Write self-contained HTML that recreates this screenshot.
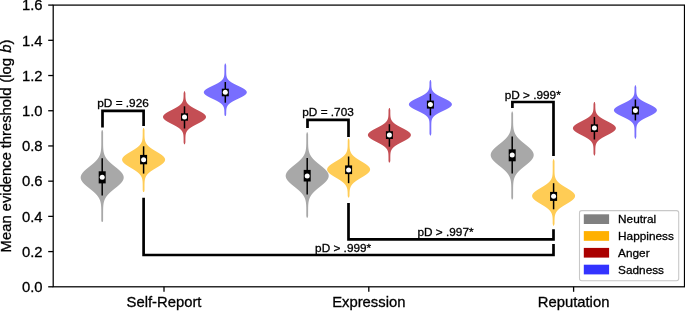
<!DOCTYPE html>
<html><head><meta charset="utf-8"><title>chart</title>
<style>
html,body{margin:0;padding:0;background:#fff;}
body{width:685px;height:311px;overflow:hidden;}
svg{display:block;will-change:transform;}
text{font-family:"Liberation Sans",sans-serif;fill:#000;stroke:#000;stroke-width:0.3px;}
</style></head><body>
<svg width="685" height="311" viewBox="0 0 685 311">
<rect x="0" y="0" width="685" height="311" fill="#fff"/>

<path d="M101.88,130.00 L101.73,130.50 L101.58,131.00 L101.43,131.50 L101.30,132.00 L101.30,132.50 L101.30,133.00 L101.30,133.50 L101.30,134.00 L101.30,134.50 L101.30,135.00 L101.30,135.50 L101.30,136.00 L101.30,136.50 L101.30,137.00 L101.30,137.50 L101.30,138.00 L101.30,138.50 L101.30,139.00 L101.30,139.50 L101.30,140.00 L101.30,140.50 L101.30,141.00 L101.30,141.50 L101.29,142.00 L101.29,142.50 L101.29,143.00 L101.29,143.50 L101.28,144.00 L101.28,144.50 L101.27,145.00 L101.26,145.50 L101.25,146.00 L101.23,146.50 L101.22,147.00 L101.20,147.50 L101.17,148.00 L101.14,148.50 L101.10,149.00 L101.06,149.50 L101.01,150.00 L100.95,150.50 L100.89,151.00 L100.81,151.50 L100.72,152.00 L100.61,152.50 L100.49,153.00 L100.36,153.50 L100.21,154.00 L100.04,154.50 L99.86,155.00 L99.65,155.50 L99.42,156.00 L99.17,156.50 L98.90,157.00 L98.60,157.50 L98.28,158.00 L97.94,158.50 L97.57,159.00 L97.17,159.50 L96.76,160.00 L96.31,160.50 L95.85,161.00 L95.36,161.50 L94.85,162.00 L94.31,162.50 L93.76,163.00 L93.20,163.50 L92.61,164.00 L92.02,164.50 L91.41,165.00 L90.80,165.50 L90.18,166.00 L89.55,166.50 L88.93,167.00 L88.31,167.50 L87.69,168.00 L87.08,168.50 L86.49,169.00 L85.91,169.50 L85.34,170.00 L84.80,170.50 L84.28,171.00 L83.79,171.50 L83.32,172.00 L82.89,172.50 L82.49,173.00 L82.12,173.50 L81.80,174.00 L81.51,174.50 L81.27,175.00 L81.06,175.50 L80.91,176.00 L80.79,176.50 L80.72,177.00 L80.70,177.50 L80.72,178.00 L80.79,178.50 L80.91,179.00 L81.06,179.50 L81.27,180.00 L81.51,180.50 L81.80,181.00 L82.12,181.50 L82.49,182.00 L82.89,182.50 L83.32,183.00 L83.79,183.50 L84.28,184.00 L84.80,184.50 L85.34,185.00 L85.91,185.50 L86.49,186.00 L87.08,186.50 L87.69,187.00 L88.31,187.50 L88.93,188.00 L89.55,188.50 L90.18,189.00 L90.80,189.50 L91.41,190.00 L92.02,190.50 L92.61,191.00 L93.20,191.50 L93.76,192.00 L94.31,192.50 L94.85,193.00 L95.36,193.50 L95.85,194.00 L96.31,194.50 L96.76,195.00 L97.17,195.50 L97.57,196.00 L97.94,196.50 L98.28,197.00 L98.60,197.50 L98.90,198.00 L99.17,198.50 L99.42,199.00 L99.65,199.50 L99.86,200.00 L100.04,200.50 L100.21,201.00 L100.36,201.50 L100.49,202.00 L100.61,202.50 L100.72,203.00 L100.81,203.50 L100.89,204.00 L100.95,204.50 L101.01,205.00 L101.06,205.50 L101.10,206.00 L101.14,206.50 L101.17,207.00 L101.20,207.50 L101.22,208.00 L101.23,208.50 L101.25,209.00 L101.26,209.50 L101.27,210.00 L101.28,210.50 L101.28,211.00 L101.29,211.50 L101.29,212.00 L101.29,212.50 L101.29,213.00 L101.30,213.50 L101.30,214.00 L101.30,214.50 L101.30,215.00 L101.30,215.50 L101.30,216.00 L101.30,216.50 L101.30,217.00 L101.30,217.50 L101.30,218.00 L101.30,218.50 L101.30,219.00 L101.30,219.50 L101.30,220.00 L101.31,220.50 L101.46,221.00 L101.61,221.50 L101.76,222.00 L102.64,222.00 L102.79,221.50 L102.94,221.00 L103.09,220.50 L103.10,220.00 L103.10,219.50 L103.10,219.00 L103.10,218.50 L103.10,218.00 L103.10,217.50 L103.10,217.00 L103.10,216.50 L103.10,216.00 L103.10,215.50 L103.10,215.00 L103.10,214.50 L103.10,214.00 L103.10,213.50 L103.11,213.00 L103.11,212.50 L103.11,212.00 L103.11,211.50 L103.12,211.00 L103.12,210.50 L103.13,210.00 L103.14,209.50 L103.15,209.00 L103.17,208.50 L103.18,208.00 L103.20,207.50 L103.23,207.00 L103.26,206.50 L103.30,206.00 L103.34,205.50 L103.39,205.00 L103.45,204.50 L103.51,204.00 L103.59,203.50 L103.68,203.00 L103.79,202.50 L103.91,202.00 L104.04,201.50 L104.19,201.00 L104.36,200.50 L104.54,200.00 L104.75,199.50 L104.98,199.00 L105.23,198.50 L105.50,198.00 L105.80,197.50 L106.12,197.00 L106.46,196.50 L106.83,196.00 L107.23,195.50 L107.64,195.00 L108.09,194.50 L108.55,194.00 L109.04,193.50 L109.55,193.00 L110.09,192.50 L110.64,192.00 L111.20,191.50 L111.79,191.00 L112.38,190.50 L112.99,190.00 L113.60,189.50 L114.22,189.00 L114.85,188.50 L115.47,188.00 L116.09,187.50 L116.71,187.00 L117.32,186.50 L117.91,186.00 L118.49,185.50 L119.06,185.00 L119.60,184.50 L120.12,184.00 L120.61,183.50 L121.08,183.00 L121.51,182.50 L121.91,182.00 L122.28,181.50 L122.60,181.00 L122.89,180.50 L123.13,180.00 L123.34,179.50 L123.49,179.00 L123.61,178.50 L123.68,178.00 L123.70,177.50 L123.68,177.00 L123.61,176.50 L123.49,176.00 L123.34,175.50 L123.13,175.00 L122.89,174.50 L122.60,174.00 L122.28,173.50 L121.91,173.00 L121.51,172.50 L121.08,172.00 L120.61,171.50 L120.12,171.00 L119.60,170.50 L119.06,170.00 L118.49,169.50 L117.91,169.00 L117.32,168.50 L116.71,168.00 L116.09,167.50 L115.47,167.00 L114.85,166.50 L114.22,166.00 L113.60,165.50 L112.99,165.00 L112.38,164.50 L111.79,164.00 L111.20,163.50 L110.64,163.00 L110.09,162.50 L109.55,162.00 L109.04,161.50 L108.55,161.00 L108.09,160.50 L107.64,160.00 L107.23,159.50 L106.83,159.00 L106.46,158.50 L106.12,158.00 L105.80,157.50 L105.50,157.00 L105.23,156.50 L104.98,156.00 L104.75,155.50 L104.54,155.00 L104.36,154.50 L104.19,154.00 L104.04,153.50 L103.91,153.00 L103.79,152.50 L103.68,152.00 L103.59,151.50 L103.51,151.00 L103.45,150.50 L103.39,150.00 L103.34,149.50 L103.30,149.00 L103.26,148.50 L103.23,148.00 L103.20,147.50 L103.18,147.00 L103.17,146.50 L103.15,146.00 L103.14,145.50 L103.13,145.00 L103.12,144.50 L103.12,144.00 L103.11,143.50 L103.11,143.00 L103.11,142.50 L103.11,142.00 L103.10,141.50 L103.10,141.00 L103.10,140.50 L103.10,140.00 L103.10,139.50 L103.10,139.00 L103.10,138.50 L103.10,138.00 L103.10,137.50 L103.10,137.00 L103.10,136.50 L103.10,136.00 L103.10,135.50 L103.10,135.00 L103.10,134.50 L103.10,134.00 L103.10,133.50 L103.10,133.00 L103.10,132.50 L103.10,132.00 L102.97,131.50 L102.82,131.00 L102.67,130.50 L102.52,130.00Z" fill="#a8a8a8"/>
<path d="M143.28,128.00 L143.13,128.50 L142.98,129.00 L142.83,129.50 L142.70,130.00 L142.70,130.50 L142.70,131.00 L142.70,131.50 L142.70,132.00 L142.70,132.50 L142.69,133.00 L142.69,133.50 L142.69,134.00 L142.68,134.50 L142.68,135.00 L142.67,135.50 L142.65,136.00 L142.64,136.50 L142.62,137.00 L142.59,137.50 L142.55,138.00 L142.50,138.50 L142.44,139.00 L142.37,139.50 L142.28,140.00 L142.17,140.50 L142.03,141.00 L141.87,141.50 L141.69,142.00 L141.47,142.50 L141.22,143.00 L140.93,143.50 L140.61,144.00 L140.24,144.50 L139.83,145.00 L139.38,145.50 L138.88,146.00 L138.34,146.50 L137.75,147.00 L137.12,147.50 L136.45,148.00 L135.74,148.50 L135.00,149.00 L134.23,149.50 L133.44,150.00 L132.62,150.50 L131.79,151.00 L130.96,151.50 L130.12,152.00 L129.29,152.50 L128.47,153.00 L127.67,153.50 L126.91,154.00 L126.17,154.50 L125.48,155.00 L124.84,155.50 L124.26,156.00 L123.73,156.50 L123.27,157.00 L122.89,157.50 L122.57,158.00 L122.34,158.50 L122.18,159.00 L122.11,159.50 L122.11,160.00 L122.21,160.50 L122.38,161.00 L122.63,161.50 L122.96,162.00 L123.36,162.50 L123.83,163.00 L124.37,163.50 L124.97,164.00 L125.62,164.50 L126.32,165.00 L127.06,165.50 L127.83,166.00 L128.63,166.50 L129.45,167.00 L130.29,167.50 L131.12,168.00 L131.96,168.50 L132.79,169.00 L133.60,169.50 L134.39,170.00 L135.15,170.50 L135.89,171.00 L136.59,171.50 L137.25,172.00 L137.87,172.50 L138.45,173.00 L138.98,173.50 L139.47,174.00 L139.92,174.50 L140.32,175.00 L140.68,175.50 L140.99,176.00 L141.27,176.50 L141.52,177.00 L141.73,177.50 L141.91,178.00 L142.06,178.50 L142.19,179.00 L142.30,179.50 L142.38,180.00 L142.45,180.50 L142.51,181.00 L142.56,181.50 L142.59,182.00 L142.62,182.50 L142.64,183.00 L142.66,183.50 L142.67,184.00 L142.68,184.50 L142.69,185.00 L142.69,185.50 L142.69,186.00 L142.70,186.50 L142.70,187.00 L142.70,187.50 L142.70,188.00 L142.70,188.50 L142.70,189.00 L142.70,189.50 L142.70,190.00 L142.71,190.50 L142.86,191.00 L143.01,191.50 L143.16,192.00 L144.04,192.00 L144.19,191.50 L144.34,191.00 L144.49,190.50 L144.50,190.00 L144.50,189.50 L144.50,189.00 L144.50,188.50 L144.50,188.00 L144.50,187.50 L144.50,187.00 L144.50,186.50 L144.51,186.00 L144.51,185.50 L144.51,185.00 L144.52,184.50 L144.53,184.00 L144.54,183.50 L144.56,183.00 L144.58,182.50 L144.61,182.00 L144.64,181.50 L144.69,181.00 L144.75,180.50 L144.82,180.00 L144.90,179.50 L145.01,179.00 L145.14,178.50 L145.29,178.00 L145.47,177.50 L145.68,177.00 L145.93,176.50 L146.21,176.00 L146.52,175.50 L146.88,175.00 L147.28,174.50 L147.73,174.00 L148.22,173.50 L148.75,173.00 L149.33,172.50 L149.95,172.00 L150.61,171.50 L151.31,171.00 L152.05,170.50 L152.81,170.00 L153.60,169.50 L154.41,169.00 L155.24,168.50 L156.08,168.00 L156.91,167.50 L157.75,167.00 L158.57,166.50 L159.37,166.00 L160.14,165.50 L160.88,165.00 L161.58,164.50 L162.23,164.00 L162.83,163.50 L163.37,163.00 L163.84,162.50 L164.24,162.00 L164.57,161.50 L164.82,161.00 L164.99,160.50 L165.09,160.00 L165.09,159.50 L165.02,159.00 L164.86,158.50 L164.63,158.00 L164.31,157.50 L163.93,157.00 L163.47,156.50 L162.94,156.00 L162.36,155.50 L161.72,155.00 L161.03,154.50 L160.29,154.00 L159.53,153.50 L158.73,153.00 L157.91,152.50 L157.08,152.00 L156.24,151.50 L155.41,151.00 L154.58,150.50 L153.76,150.00 L152.97,149.50 L152.20,149.00 L151.46,148.50 L150.75,148.00 L150.08,147.50 L149.45,147.00 L148.86,146.50 L148.32,146.00 L147.82,145.50 L147.37,145.00 L146.96,144.50 L146.59,144.00 L146.27,143.50 L145.98,143.00 L145.73,142.50 L145.51,142.00 L145.33,141.50 L145.17,141.00 L145.03,140.50 L144.92,140.00 L144.83,139.50 L144.76,139.00 L144.70,138.50 L144.65,138.00 L144.61,137.50 L144.58,137.00 L144.56,136.50 L144.55,136.00 L144.53,135.50 L144.52,135.00 L144.52,134.50 L144.51,134.00 L144.51,133.50 L144.51,133.00 L144.50,132.50 L144.50,132.00 L144.50,131.50 L144.50,131.00 L144.50,130.50 L144.50,130.00 L144.37,129.50 L144.22,129.00 L144.07,128.50 L143.92,128.00Z" fill="#ffcc55"/>
<path d="M184.18,91.30 L184.03,91.80 L183.88,92.30 L183.73,92.80 L183.60,93.30 L183.60,93.80 L183.59,94.30 L183.59,94.80 L183.58,95.30 L183.58,95.80 L183.56,96.30 L183.55,96.80 L183.52,97.30 L183.49,97.80 L183.45,98.30 L183.39,98.80 L183.32,99.30 L183.23,99.80 L183.11,100.30 L182.97,100.80 L182.79,101.30 L182.57,101.80 L182.31,102.30 L182.01,102.80 L181.65,103.30 L181.24,103.80 L180.78,104.30 L180.25,104.80 L179.67,105.30 L179.02,105.80 L178.32,106.30 L177.56,106.80 L176.74,107.30 L175.89,107.80 L174.99,108.30 L174.06,108.80 L173.10,109.30 L172.13,109.80 L171.16,110.30 L170.19,110.80 L169.25,111.30 L168.33,111.80 L167.45,112.30 L166.63,112.80 L165.87,113.30 L165.18,113.80 L164.57,114.30 L164.05,114.80 L163.64,115.30 L163.32,115.80 L163.11,116.30 L163.01,116.80 L163.02,117.30 L163.14,117.80 L163.37,118.30 L163.71,118.80 L164.15,119.30 L164.69,119.80 L165.31,120.30 L166.01,120.80 L166.79,121.30 L167.62,121.80 L168.51,122.30 L169.43,122.80 L170.38,123.30 L171.35,123.80 L172.33,124.30 L173.29,124.80 L174.24,125.30 L175.17,125.80 L176.06,126.30 L176.91,126.80 L177.71,127.30 L178.46,127.80 L179.15,128.30 L179.79,128.80 L180.36,129.30 L180.87,129.80 L181.33,130.30 L181.73,130.80 L182.07,131.30 L182.37,131.80 L182.62,132.30 L182.83,132.80 L183.00,133.30 L183.14,133.80 L183.25,134.30 L183.34,134.80 L183.41,135.30 L183.46,135.80 L183.50,136.30 L183.53,136.80 L183.55,137.30 L183.57,137.80 L183.58,138.30 L183.59,138.80 L183.59,139.30 L183.59,139.80 L183.60,140.30 L183.60,140.80 L183.60,141.30 L183.60,141.80 L183.60,142.30 L183.67,142.80 L183.82,143.30 L183.97,143.80 L184.12,144.30 L184.88,144.30 L185.03,143.80 L185.18,143.30 L185.33,142.80 L185.40,142.30 L185.40,141.80 L185.40,141.30 L185.40,140.80 L185.40,140.30 L185.41,139.80 L185.41,139.30 L185.41,138.80 L185.42,138.30 L185.43,137.80 L185.45,137.30 L185.47,136.80 L185.50,136.30 L185.54,135.80 L185.59,135.30 L185.66,134.80 L185.75,134.30 L185.86,133.80 L186.00,133.30 L186.17,132.80 L186.38,132.30 L186.63,131.80 L186.93,131.30 L187.27,130.80 L187.67,130.30 L188.13,129.80 L188.64,129.30 L189.21,128.80 L189.85,128.30 L190.54,127.80 L191.29,127.30 L192.09,126.80 L192.94,126.30 L193.83,125.80 L194.76,125.30 L195.71,124.80 L196.67,124.30 L197.65,123.80 L198.62,123.30 L199.57,122.80 L200.49,122.30 L201.38,121.80 L202.21,121.30 L202.99,120.80 L203.69,120.30 L204.31,119.80 L204.85,119.30 L205.29,118.80 L205.63,118.30 L205.86,117.80 L205.98,117.30 L205.99,116.80 L205.89,116.30 L205.68,115.80 L205.36,115.30 L204.95,114.80 L204.43,114.30 L203.82,113.80 L203.13,113.30 L202.37,112.80 L201.55,112.30 L200.67,111.80 L199.75,111.30 L198.81,110.80 L197.84,110.30 L196.87,109.80 L195.90,109.30 L194.94,108.80 L194.01,108.30 L193.11,107.80 L192.26,107.30 L191.44,106.80 L190.68,106.30 L189.98,105.80 L189.33,105.30 L188.75,104.80 L188.22,104.30 L187.76,103.80 L187.35,103.30 L186.99,102.80 L186.69,102.30 L186.43,101.80 L186.21,101.30 L186.03,100.80 L185.89,100.30 L185.77,99.80 L185.68,99.30 L185.61,98.80 L185.55,98.30 L185.51,97.80 L185.48,97.30 L185.45,96.80 L185.44,96.30 L185.42,95.80 L185.42,95.30 L185.41,94.80 L185.41,94.30 L185.40,93.80 L185.40,93.30 L185.27,92.80 L185.12,92.30 L184.97,91.80 L184.82,91.30Z" fill="#c44e54"/>
<path d="M224.98,63.40 L224.83,63.90 L224.68,64.40 L224.53,64.90 L224.40,65.40 L224.40,65.90 L224.40,66.40 L224.40,66.90 L224.40,67.40 L224.40,67.90 L224.40,68.40 L224.40,68.90 L224.40,69.40 L224.40,69.90 L224.40,70.40 L224.40,70.90 L224.39,71.40 L224.39,71.90 L224.38,72.40 L224.37,72.90 L224.35,73.40 L224.33,73.90 L224.29,74.40 L224.25,74.90 L224.19,75.40 L224.10,75.90 L224.00,76.40 L223.86,76.90 L223.69,77.40 L223.48,77.90 L223.22,78.40 L222.91,78.90 L222.54,79.40 L222.11,79.90 L221.61,80.40 L221.05,80.90 L220.41,81.40 L219.71,81.90 L218.94,82.40 L218.10,82.90 L217.20,83.40 L216.26,83.90 L215.27,84.40 L214.25,84.90 L213.20,85.40 L212.15,85.90 L211.11,86.40 L210.08,86.90 L209.09,87.40 L208.15,87.90 L207.27,88.40 L206.47,88.90 L205.75,89.40 L205.13,89.90 L204.63,90.40 L204.23,90.90 L203.97,91.40 L203.82,91.90 L203.81,92.40 L203.93,92.90 L204.17,93.40 L204.54,93.90 L205.02,94.40 L205.62,94.90 L206.32,95.40 L207.10,95.90 L207.97,96.40 L208.90,96.90 L209.88,97.40 L210.90,97.90 L211.94,98.40 L212.99,98.90 L214.04,99.40 L215.07,99.90 L216.06,100.40 L217.02,100.90 L217.92,101.40 L218.77,101.90 L219.56,102.40 L220.28,102.90 L220.93,103.40 L221.51,103.90 L222.02,104.40 L222.46,104.90 L222.84,105.40 L223.16,105.90 L223.43,106.40 L223.65,106.90 L223.83,107.40 L223.97,107.90 L224.09,108.40 L224.17,108.90 L224.24,109.40 L224.29,109.90 L224.32,110.40 L224.35,110.90 L224.36,111.40 L224.38,111.90 L224.39,112.40 L224.39,112.90 L224.39,113.40 L224.40,113.90 L224.44,114.40 L224.59,114.90 L224.74,115.40 L224.89,115.90 L225.71,115.90 L225.86,115.40 L226.01,114.90 L226.16,114.40 L226.20,113.90 L226.21,113.40 L226.21,112.90 L226.21,112.40 L226.22,111.90 L226.24,111.40 L226.25,110.90 L226.28,110.40 L226.31,109.90 L226.36,109.40 L226.43,108.90 L226.51,108.40 L226.63,107.90 L226.77,107.40 L226.95,106.90 L227.17,106.40 L227.44,105.90 L227.76,105.40 L228.14,104.90 L228.58,104.40 L229.09,103.90 L229.67,103.40 L230.32,102.90 L231.04,102.40 L231.83,101.90 L232.68,101.40 L233.58,100.90 L234.54,100.40 L235.53,99.90 L236.56,99.40 L237.61,98.90 L238.66,98.40 L239.70,97.90 L240.72,97.40 L241.70,96.90 L242.63,96.40 L243.50,95.90 L244.28,95.40 L244.98,94.90 L245.58,94.40 L246.06,93.90 L246.43,93.40 L246.67,92.90 L246.79,92.40 L246.78,91.90 L246.63,91.40 L246.37,90.90 L245.97,90.40 L245.47,89.90 L244.85,89.40 L244.13,88.90 L243.33,88.40 L242.45,87.90 L241.51,87.40 L240.52,86.90 L239.49,86.40 L238.45,85.90 L237.40,85.40 L236.35,84.90 L235.33,84.40 L234.34,83.90 L233.40,83.40 L232.50,82.90 L231.66,82.40 L230.89,81.90 L230.19,81.40 L229.55,80.90 L228.99,80.40 L228.49,79.90 L228.06,79.40 L227.69,78.90 L227.38,78.40 L227.12,77.90 L226.91,77.40 L226.74,76.90 L226.60,76.40 L226.50,75.90 L226.41,75.40 L226.35,74.90 L226.31,74.40 L226.27,73.90 L226.25,73.40 L226.23,72.90 L226.22,72.40 L226.21,71.90 L226.21,71.40 L226.20,70.90 L226.20,70.40 L226.20,69.90 L226.20,69.40 L226.20,68.90 L226.20,68.40 L226.20,67.90 L226.20,67.40 L226.20,66.90 L226.20,66.40 L226.20,65.90 L226.20,65.40 L226.07,64.90 L225.92,64.40 L225.77,63.90 L225.62,63.40Z" fill="#786eff"/>
<path d="M306.88,132.20 L306.73,132.70 L306.58,133.20 L306.43,133.70 L306.30,134.20 L306.30,134.70 L306.30,135.20 L306.30,135.70 L306.30,136.20 L306.30,136.70 L306.30,137.20 L306.30,137.70 L306.30,138.20 L306.30,138.70 L306.30,139.20 L306.30,139.70 L306.29,140.20 L306.29,140.70 L306.29,141.20 L306.29,141.70 L306.28,142.20 L306.28,142.70 L306.27,143.20 L306.26,143.70 L306.25,144.20 L306.24,144.70 L306.22,145.20 L306.20,145.70 L306.18,146.20 L306.15,146.70 L306.11,147.20 L306.07,147.70 L306.02,148.20 L305.97,148.70 L305.90,149.20 L305.82,149.70 L305.74,150.20 L305.63,150.70 L305.52,151.20 L305.39,151.70 L305.24,152.20 L305.08,152.70 L304.90,153.20 L304.69,153.70 L304.47,154.20 L304.22,154.70 L303.96,155.20 L303.67,155.70 L303.35,156.20 L303.01,156.70 L302.64,157.20 L302.26,157.70 L301.84,158.20 L301.40,158.70 L300.94,159.20 L300.46,159.70 L299.95,160.20 L299.42,160.70 L298.88,161.20 L298.31,161.70 L297.73,162.20 L297.14,162.70 L296.53,163.20 L295.92,163.70 L295.30,164.20 L294.68,164.70 L294.05,165.20 L293.43,165.70 L292.81,166.20 L292.20,166.70 L291.61,167.20 L291.02,167.70 L290.45,168.20 L289.91,168.70 L289.38,169.20 L288.88,169.70 L288.41,170.20 L287.97,170.70 L287.56,171.20 L287.19,171.70 L286.86,172.20 L286.57,172.70 L286.31,173.20 L286.10,173.70 L285.93,174.20 L285.81,174.70 L285.73,175.20 L285.70,175.70 L285.71,176.20 L285.77,176.70 L285.88,177.20 L286.03,177.70 L286.22,178.20 L286.46,178.70 L286.74,179.20 L287.06,179.70 L287.41,180.20 L287.80,180.70 L288.23,181.20 L288.69,181.70 L289.18,182.20 L289.69,182.70 L290.23,183.20 L290.79,183.70 L291.37,184.20 L291.96,184.70 L292.57,185.20 L293.18,185.70 L293.80,186.20 L294.43,186.70 L295.05,187.20 L295.67,187.70 L296.29,188.20 L296.90,188.70 L297.50,189.20 L298.08,189.70 L298.65,190.20 L299.21,190.70 L299.74,191.20 L300.26,191.70 L300.75,192.20 L301.22,192.70 L301.67,193.20 L302.09,193.70 L302.49,194.20 L302.87,194.70 L303.22,195.20 L303.54,195.70 L303.84,196.20 L304.12,196.70 L304.37,197.20 L304.61,197.70 L304.82,198.20 L305.01,198.70 L305.18,199.20 L305.33,199.70 L305.47,200.20 L305.59,200.70 L305.70,201.20 L305.79,201.70 L305.87,202.20 L305.94,202.70 L306.00,203.20 L306.05,203.70 L306.10,204.20 L306.13,204.70 L306.17,205.20 L306.19,205.70 L306.21,206.20 L306.23,206.70 L306.25,207.20 L306.26,207.70 L306.27,208.20 L306.27,208.70 L306.28,209.20 L306.28,209.70 L306.29,210.20 L306.29,210.70 L306.29,211.20 L306.30,211.70 L306.30,212.20 L306.30,212.70 L306.30,213.20 L306.30,213.70 L306.30,214.20 L306.30,214.70 L306.30,215.20 L306.30,215.70 L306.34,216.20 L306.49,216.70 L306.64,217.20 L306.79,217.70 L307.61,217.70 L307.76,217.20 L307.91,216.70 L308.06,216.20 L308.10,215.70 L308.10,215.20 L308.10,214.70 L308.10,214.20 L308.10,213.70 L308.10,213.20 L308.10,212.70 L308.10,212.20 L308.10,211.70 L308.11,211.20 L308.11,210.70 L308.11,210.20 L308.12,209.70 L308.12,209.20 L308.13,208.70 L308.13,208.20 L308.14,207.70 L308.15,207.20 L308.17,206.70 L308.19,206.20 L308.21,205.70 L308.23,205.20 L308.27,204.70 L308.30,204.20 L308.35,203.70 L308.40,203.20 L308.46,202.70 L308.53,202.20 L308.61,201.70 L308.70,201.20 L308.81,200.70 L308.93,200.20 L309.07,199.70 L309.22,199.20 L309.39,198.70 L309.58,198.20 L309.79,197.70 L310.03,197.20 L310.28,196.70 L310.56,196.20 L310.86,195.70 L311.18,195.20 L311.53,194.70 L311.91,194.20 L312.31,193.70 L312.73,193.20 L313.18,192.70 L313.65,192.20 L314.14,191.70 L314.66,191.20 L315.19,190.70 L315.75,190.20 L316.32,189.70 L316.90,189.20 L317.50,188.70 L318.11,188.20 L318.73,187.70 L319.35,187.20 L319.97,186.70 L320.60,186.20 L321.22,185.70 L321.83,185.20 L322.44,184.70 L323.03,184.20 L323.61,183.70 L324.17,183.20 L324.71,182.70 L325.22,182.20 L325.71,181.70 L326.17,181.20 L326.60,180.70 L326.99,180.20 L327.34,179.70 L327.66,179.20 L327.94,178.70 L328.18,178.20 L328.37,177.70 L328.52,177.20 L328.63,176.70 L328.69,176.20 L328.70,175.70 L328.67,175.20 L328.59,174.70 L328.47,174.20 L328.30,173.70 L328.09,173.20 L327.83,172.70 L327.54,172.20 L327.21,171.70 L326.84,171.20 L326.43,170.70 L325.99,170.20 L325.52,169.70 L325.02,169.20 L324.49,168.70 L323.95,168.20 L323.38,167.70 L322.79,167.20 L322.20,166.70 L321.59,166.20 L320.97,165.70 L320.35,165.20 L319.72,164.70 L319.10,164.20 L318.48,163.70 L317.87,163.20 L317.26,162.70 L316.67,162.20 L316.09,161.70 L315.52,161.20 L314.98,160.70 L314.45,160.20 L313.94,159.70 L313.46,159.20 L313.00,158.70 L312.56,158.20 L312.14,157.70 L311.76,157.20 L311.39,156.70 L311.05,156.20 L310.73,155.70 L310.44,155.20 L310.18,154.70 L309.93,154.20 L309.71,153.70 L309.50,153.20 L309.32,152.70 L309.16,152.20 L309.01,151.70 L308.88,151.20 L308.77,150.70 L308.66,150.20 L308.58,149.70 L308.50,149.20 L308.43,148.70 L308.38,148.20 L308.33,147.70 L308.29,147.20 L308.25,146.70 L308.22,146.20 L308.20,145.70 L308.18,145.20 L308.16,144.70 L308.15,144.20 L308.14,143.70 L308.13,143.20 L308.12,142.70 L308.12,142.20 L308.11,141.70 L308.11,141.20 L308.11,140.70 L308.11,140.20 L308.10,139.70 L308.10,139.20 L308.10,138.70 L308.10,138.20 L308.10,137.70 L308.10,137.20 L308.10,136.70 L308.10,136.20 L308.10,135.70 L308.10,135.20 L308.10,134.70 L308.10,134.20 L307.97,133.70 L307.82,133.20 L307.67,132.70 L307.52,132.20Z" fill="#a8a8a8"/>
<path d="M348.28,138.60 L348.13,139.10 L347.98,139.60 L347.83,140.10 L347.70,140.60 L347.70,141.10 L347.70,141.60 L347.70,142.10 L347.70,142.60 L347.69,143.10 L347.69,143.60 L347.69,144.10 L347.68,144.60 L347.67,145.10 L347.66,145.60 L347.65,146.10 L347.63,146.60 L347.60,147.10 L347.57,147.60 L347.53,148.10 L347.48,148.60 L347.41,149.10 L347.33,149.60 L347.23,150.10 L347.11,150.60 L346.97,151.10 L346.80,151.60 L346.61,152.10 L346.38,152.60 L346.11,153.10 L345.81,153.60 L345.47,154.10 L345.08,154.60 L344.65,155.10 L344.18,155.60 L343.67,156.10 L343.11,156.60 L342.50,157.10 L341.86,157.60 L341.17,158.10 L340.45,158.60 L339.70,159.10 L338.92,159.60 L338.11,160.10 L337.29,160.60 L336.46,161.10 L335.62,161.60 L334.78,162.10 L333.96,162.60 L333.15,163.10 L332.36,163.60 L331.61,164.10 L330.89,164.60 L330.22,165.10 L329.60,165.60 L329.04,166.10 L328.54,166.60 L328.11,167.10 L327.75,167.60 L327.47,168.10 L327.26,168.60 L327.14,169.10 L327.10,169.60 L327.14,170.10 L327.26,170.60 L327.47,171.10 L327.75,171.60 L328.11,172.10 L328.54,172.60 L329.04,173.10 L329.60,173.60 L330.22,174.10 L330.89,174.60 L331.61,175.10 L332.36,175.60 L333.15,176.10 L333.96,176.60 L334.78,177.10 L335.62,177.60 L336.46,178.10 L337.29,178.60 L338.11,179.10 L338.92,179.60 L339.70,180.10 L340.45,180.60 L341.17,181.10 L341.86,181.60 L342.50,182.10 L343.11,182.60 L343.67,183.10 L344.18,183.60 L344.65,184.10 L345.08,184.60 L345.47,185.10 L345.81,185.60 L346.11,186.10 L346.38,186.60 L346.61,187.10 L346.80,187.60 L346.97,188.10 L347.11,188.60 L347.23,189.10 L347.33,189.60 L347.41,190.10 L347.48,190.60 L347.53,191.10 L347.57,191.60 L347.60,192.10 L347.63,192.60 L347.65,193.10 L347.66,193.60 L347.67,194.10 L347.68,194.60 L347.69,195.10 L347.69,195.60 L347.71,196.10 L347.86,196.60 L348.01,197.10 L348.16,197.60 L349.04,197.60 L349.19,197.10 L349.34,196.60 L349.49,196.10 L349.51,195.60 L349.51,195.10 L349.52,194.60 L349.53,194.10 L349.54,193.60 L349.55,193.10 L349.57,192.60 L349.60,192.10 L349.63,191.60 L349.67,191.10 L349.72,190.60 L349.79,190.10 L349.87,189.60 L349.97,189.10 L350.09,188.60 L350.23,188.10 L350.40,187.60 L350.59,187.10 L350.82,186.60 L351.09,186.10 L351.39,185.60 L351.73,185.10 L352.12,184.60 L352.55,184.10 L353.02,183.60 L353.53,183.10 L354.09,182.60 L354.70,182.10 L355.34,181.60 L356.03,181.10 L356.75,180.60 L357.50,180.10 L358.28,179.60 L359.09,179.10 L359.91,178.60 L360.74,178.10 L361.58,177.60 L362.42,177.10 L363.24,176.60 L364.05,176.10 L364.84,175.60 L365.59,175.10 L366.31,174.60 L366.98,174.10 L367.60,173.60 L368.16,173.10 L368.66,172.60 L369.09,172.10 L369.45,171.60 L369.73,171.10 L369.94,170.60 L370.06,170.10 L370.10,169.60 L370.06,169.10 L369.94,168.60 L369.73,168.10 L369.45,167.60 L369.09,167.10 L368.66,166.60 L368.16,166.10 L367.60,165.60 L366.98,165.10 L366.31,164.60 L365.59,164.10 L364.84,163.60 L364.05,163.10 L363.24,162.60 L362.42,162.10 L361.58,161.60 L360.74,161.10 L359.91,160.60 L359.09,160.10 L358.28,159.60 L357.50,159.10 L356.75,158.60 L356.03,158.10 L355.34,157.60 L354.70,157.10 L354.09,156.60 L353.53,156.10 L353.02,155.60 L352.55,155.10 L352.12,154.60 L351.73,154.10 L351.39,153.60 L351.09,153.10 L350.82,152.60 L350.59,152.10 L350.40,151.60 L350.23,151.10 L350.09,150.60 L349.97,150.10 L349.87,149.60 L349.79,149.10 L349.72,148.60 L349.67,148.10 L349.63,147.60 L349.60,147.10 L349.57,146.60 L349.55,146.10 L349.54,145.60 L349.53,145.10 L349.52,144.60 L349.51,144.10 L349.51,143.60 L349.51,143.10 L349.50,142.60 L349.50,142.10 L349.50,141.60 L349.50,141.10 L349.50,140.60 L349.37,140.10 L349.22,139.60 L349.07,139.10 L348.92,138.60Z" fill="#ffcc55"/>
<path d="M389.08,108.00 L388.93,108.50 L388.78,109.00 L388.63,109.50 L388.50,110.00 L388.50,110.50 L388.50,111.00 L388.50,111.50 L388.50,112.00 L388.49,112.50 L388.49,113.00 L388.48,113.50 L388.47,114.00 L388.46,114.50 L388.44,115.00 L388.41,115.50 L388.38,116.00 L388.33,116.50 L388.27,117.00 L388.19,117.50 L388.09,118.00 L387.96,118.50 L387.80,119.00 L387.61,119.50 L387.37,120.00 L387.10,120.50 L386.77,121.00 L386.40,121.50 L385.96,122.00 L385.47,122.50 L384.92,123.00 L384.31,123.50 L383.65,124.00 L382.92,124.50 L382.14,125.00 L381.31,125.50 L380.43,126.00 L379.52,126.50 L378.58,127.00 L377.61,127.50 L376.64,128.00 L375.67,128.50 L374.71,129.00 L373.77,129.50 L372.87,130.00 L372.01,130.50 L371.21,131.00 L370.48,131.50 L369.82,132.00 L369.25,132.50 L368.77,133.00 L368.40,133.50 L368.12,134.00 L367.96,134.50 L367.90,135.00 L367.96,135.50 L368.12,136.00 L368.40,136.50 L368.77,137.00 L369.25,137.50 L369.82,138.00 L370.48,138.50 L371.21,139.00 L372.01,139.50 L372.87,140.00 L373.77,140.50 L374.71,141.00 L375.67,141.50 L376.64,142.00 L377.61,142.50 L378.58,143.00 L379.52,143.50 L380.43,144.00 L381.31,144.50 L382.14,145.00 L382.92,145.50 L383.65,146.00 L384.31,146.50 L384.92,147.00 L385.47,147.50 L385.96,148.00 L386.40,148.50 L386.77,149.00 L387.10,149.50 L387.37,150.00 L387.61,150.50 L387.80,151.00 L387.96,151.50 L388.09,152.00 L388.19,152.50 L388.27,153.00 L388.33,153.50 L388.38,154.00 L388.41,154.50 L388.44,155.00 L388.46,155.50 L388.47,156.00 L388.48,156.50 L388.49,157.00 L388.49,157.50 L388.50,158.00 L388.50,158.50 L388.50,159.00 L388.50,159.50 L388.50,160.00 L388.50,160.50 L388.51,161.00 L388.66,161.50 L388.81,162.00 L388.96,162.50 L389.84,162.50 L389.99,162.00 L390.14,161.50 L390.29,161.00 L390.30,160.50 L390.30,160.00 L390.30,159.50 L390.30,159.00 L390.30,158.50 L390.30,158.00 L390.31,157.50 L390.31,157.00 L390.32,156.50 L390.33,156.00 L390.34,155.50 L390.36,155.00 L390.39,154.50 L390.42,154.00 L390.47,153.50 L390.53,153.00 L390.61,152.50 L390.71,152.00 L390.84,151.50 L391.00,151.00 L391.19,150.50 L391.43,150.00 L391.70,149.50 L392.03,149.00 L392.40,148.50 L392.84,148.00 L393.33,147.50 L393.88,147.00 L394.49,146.50 L395.15,146.00 L395.88,145.50 L396.66,145.00 L397.49,144.50 L398.37,144.00 L399.28,143.50 L400.22,143.00 L401.19,142.50 L402.16,142.00 L403.13,141.50 L404.09,141.00 L405.03,140.50 L405.93,140.00 L406.79,139.50 L407.59,139.00 L408.32,138.50 L408.98,138.00 L409.55,137.50 L410.03,137.00 L410.40,136.50 L410.68,136.00 L410.84,135.50 L410.90,135.00 L410.84,134.50 L410.68,134.00 L410.40,133.50 L410.03,133.00 L409.55,132.50 L408.98,132.00 L408.32,131.50 L407.59,131.00 L406.79,130.50 L405.93,130.00 L405.03,129.50 L404.09,129.00 L403.13,128.50 L402.16,128.00 L401.19,127.50 L400.22,127.00 L399.28,126.50 L398.37,126.00 L397.49,125.50 L396.66,125.00 L395.88,124.50 L395.15,124.00 L394.49,123.50 L393.88,123.00 L393.33,122.50 L392.84,122.00 L392.40,121.50 L392.03,121.00 L391.70,120.50 L391.43,120.00 L391.19,119.50 L391.00,119.00 L390.84,118.50 L390.71,118.00 L390.61,117.50 L390.53,117.00 L390.47,116.50 L390.42,116.00 L390.39,115.50 L390.36,115.00 L390.34,114.50 L390.33,114.00 L390.32,113.50 L390.31,113.00 L390.31,112.50 L390.30,112.00 L390.30,111.50 L390.30,111.00 L390.30,110.50 L390.30,110.00 L390.17,109.50 L390.02,109.00 L389.87,108.50 L389.72,108.00Z" fill="#c44e54"/>
<path d="M430.08,80.00 L429.93,80.50 L429.78,81.00 L429.63,81.50 L429.50,82.00 L429.50,82.50 L429.50,83.00 L429.49,83.50 L429.49,84.00 L429.48,84.50 L429.47,85.00 L429.45,85.50 L429.43,86.00 L429.40,86.50 L429.36,87.00 L429.30,87.50 L429.22,88.00 L429.12,88.50 L428.99,89.00 L428.83,89.50 L428.62,90.00 L428.38,90.50 L428.08,91.00 L427.72,91.50 L427.30,92.00 L426.82,92.50 L426.27,93.00 L425.65,93.50 L424.95,94.00 L424.20,94.50 L423.37,95.00 L422.49,95.50 L421.55,96.00 L420.57,96.50 L419.55,97.00 L418.51,97.50 L417.46,98.00 L416.42,98.50 L415.39,99.00 L414.39,99.50 L413.44,100.00 L412.54,100.50 L411.72,101.00 L410.99,101.50 L410.35,102.00 L409.82,102.50 L409.40,103.00 L409.11,103.50 L408.94,104.00 L408.90,104.50 L408.99,105.00 L409.21,105.50 L409.56,106.00 L410.02,106.50 L410.59,107.00 L411.27,107.50 L412.04,108.00 L412.89,108.50 L413.81,109.00 L414.78,109.50 L415.80,110.00 L416.83,110.50 L417.88,111.00 L418.93,111.50 L419.96,112.00 L420.97,112.50 L421.93,113.00 L422.85,113.50 L423.71,114.00 L424.51,114.50 L425.24,115.00 L425.90,115.50 L426.50,116.00 L427.02,116.50 L427.48,117.00 L427.87,117.50 L428.20,118.00 L428.48,118.50 L428.71,119.00 L428.90,119.50 L429.05,120.00 L429.16,120.50 L429.26,121.00 L429.33,121.50 L429.38,122.00 L429.41,122.50 L429.44,123.00 L429.46,123.50 L429.47,124.00 L429.48,124.50 L429.49,125.00 L429.49,125.50 L429.50,126.00 L429.50,126.50 L429.50,127.00 L429.50,127.50 L429.50,128.00 L429.50,128.50 L429.50,129.00 L429.50,129.50 L429.50,130.00 L429.50,130.50 L429.50,131.00 L429.50,131.50 L429.50,132.00 L429.50,132.50 L429.50,133.00 L429.50,133.50 L429.57,134.00 L429.72,134.50 L429.87,135.00 L430.02,135.50 L430.78,135.50 L430.93,135.00 L431.08,134.50 L431.23,134.00 L431.30,133.50 L431.30,133.00 L431.30,132.50 L431.30,132.00 L431.30,131.50 L431.30,131.00 L431.30,130.50 L431.30,130.00 L431.30,129.50 L431.30,129.00 L431.30,128.50 L431.30,128.00 L431.30,127.50 L431.30,127.00 L431.30,126.50 L431.30,126.00 L431.31,125.50 L431.31,125.00 L431.32,124.50 L431.33,124.00 L431.34,123.50 L431.36,123.00 L431.39,122.50 L431.42,122.00 L431.47,121.50 L431.54,121.00 L431.64,120.50 L431.75,120.00 L431.90,119.50 L432.09,119.00 L432.32,118.50 L432.60,118.00 L432.93,117.50 L433.32,117.00 L433.78,116.50 L434.30,116.00 L434.90,115.50 L435.56,115.00 L436.29,114.50 L437.09,114.00 L437.95,113.50 L438.87,113.00 L439.83,112.50 L440.84,112.00 L441.87,111.50 L442.92,111.00 L443.97,110.50 L445.00,110.00 L446.02,109.50 L446.99,109.00 L447.91,108.50 L448.76,108.00 L449.53,107.50 L450.21,107.00 L450.78,106.50 L451.24,106.00 L451.59,105.50 L451.81,105.00 L451.90,104.50 L451.86,104.00 L451.69,103.50 L451.40,103.00 L450.98,102.50 L450.45,102.00 L449.81,101.50 L449.08,101.00 L448.26,100.50 L447.36,100.00 L446.41,99.50 L445.41,99.00 L444.38,98.50 L443.34,98.00 L442.29,97.50 L441.25,97.00 L440.23,96.50 L439.25,96.00 L438.31,95.50 L437.43,95.00 L436.60,94.50 L435.85,94.00 L435.15,93.50 L434.53,93.00 L433.98,92.50 L433.50,92.00 L433.08,91.50 L432.72,91.00 L432.42,90.50 L432.18,90.00 L431.97,89.50 L431.81,89.00 L431.68,88.50 L431.58,88.00 L431.50,87.50 L431.44,87.00 L431.40,86.50 L431.37,86.00 L431.35,85.50 L431.33,85.00 L431.32,84.50 L431.31,84.00 L431.31,83.50 L431.30,83.00 L431.30,82.50 L431.30,82.00 L431.17,81.50 L431.02,81.00 L430.87,80.50 L430.72,80.00Z" fill="#786eff"/>
<path d="M511.88,111.50 L511.73,112.00 L511.58,112.50 L511.43,113.00 L511.30,113.50 L511.30,114.00 L511.30,114.50 L511.30,115.00 L511.30,115.50 L511.30,116.00 L511.30,116.50 L511.30,117.00 L511.30,117.50 L511.30,118.00 L511.30,118.50 L511.30,119.00 L511.29,119.50 L511.29,120.00 L511.29,120.50 L511.29,121.00 L511.28,121.50 L511.28,122.00 L511.27,122.50 L511.26,123.00 L511.25,123.50 L511.23,124.00 L511.22,124.50 L511.20,125.00 L511.17,125.50 L511.14,126.00 L511.10,126.50 L511.06,127.00 L511.01,127.50 L510.95,128.00 L510.89,128.50 L510.81,129.00 L510.72,129.50 L510.61,130.00 L510.49,130.50 L510.36,131.00 L510.21,131.50 L510.04,132.00 L509.86,132.50 L509.65,133.00 L509.42,133.50 L509.17,134.00 L508.90,134.50 L508.60,135.00 L508.28,135.50 L507.94,136.00 L507.57,136.50 L507.17,137.00 L506.76,137.50 L506.31,138.00 L505.85,138.50 L505.36,139.00 L504.85,139.50 L504.31,140.00 L503.76,140.50 L503.20,141.00 L502.61,141.50 L502.02,142.00 L501.41,142.50 L500.80,143.00 L500.18,143.50 L499.55,144.00 L498.93,144.50 L498.31,145.00 L497.69,145.50 L497.08,146.00 L496.49,146.50 L495.91,147.00 L495.34,147.50 L494.80,148.00 L494.28,148.50 L493.79,149.00 L493.32,149.50 L492.89,150.00 L492.49,150.50 L492.12,151.00 L491.80,151.50 L491.51,152.00 L491.27,152.50 L491.06,153.00 L490.91,153.50 L490.79,154.00 L490.72,154.50 L490.70,155.00 L490.72,155.50 L490.79,156.00 L490.91,156.50 L491.06,157.00 L491.27,157.50 L491.51,158.00 L491.80,158.50 L492.12,159.00 L492.49,159.50 L492.89,160.00 L493.32,160.50 L493.79,161.00 L494.28,161.50 L494.80,162.00 L495.34,162.50 L495.91,163.00 L496.49,163.50 L497.08,164.00 L497.69,164.50 L498.31,165.00 L498.93,165.50 L499.55,166.00 L500.18,166.50 L500.80,167.00 L501.41,167.50 L502.02,168.00 L502.61,168.50 L503.20,169.00 L503.76,169.50 L504.31,170.00 L504.85,170.50 L505.36,171.00 L505.85,171.50 L506.31,172.00 L506.76,172.50 L507.17,173.00 L507.57,173.50 L507.94,174.00 L508.28,174.50 L508.60,175.00 L508.90,175.50 L509.17,176.00 L509.42,176.50 L509.65,177.00 L509.86,177.50 L510.04,178.00 L510.21,178.50 L510.36,179.00 L510.49,179.50 L510.61,180.00 L510.72,180.50 L510.81,181.00 L510.89,181.50 L510.95,182.00 L511.01,182.50 L511.06,183.00 L511.10,183.50 L511.14,184.00 L511.17,184.50 L511.20,185.00 L511.22,185.50 L511.23,186.00 L511.25,186.50 L511.26,187.00 L511.27,187.50 L511.28,188.00 L511.28,188.50 L511.29,189.00 L511.29,189.50 L511.29,190.00 L511.29,190.50 L511.30,191.00 L511.30,191.50 L511.30,192.00 L511.30,192.50 L511.30,193.00 L511.30,193.50 L511.30,194.00 L511.30,194.50 L511.30,195.00 L511.30,195.50 L511.30,196.00 L511.30,196.50 L511.30,197.00 L511.30,197.50 L511.37,198.00 L511.52,198.50 L511.67,199.00 L511.82,199.50 L512.58,199.50 L512.73,199.00 L512.88,198.50 L513.03,198.00 L513.10,197.50 L513.10,197.00 L513.10,196.50 L513.10,196.00 L513.10,195.50 L513.10,195.00 L513.10,194.50 L513.10,194.00 L513.10,193.50 L513.10,193.00 L513.10,192.50 L513.10,192.00 L513.10,191.50 L513.10,191.00 L513.11,190.50 L513.11,190.00 L513.11,189.50 L513.11,189.00 L513.12,188.50 L513.12,188.00 L513.13,187.50 L513.14,187.00 L513.15,186.50 L513.17,186.00 L513.18,185.50 L513.20,185.00 L513.23,184.50 L513.26,184.00 L513.30,183.50 L513.34,183.00 L513.39,182.50 L513.45,182.00 L513.51,181.50 L513.59,181.00 L513.68,180.50 L513.79,180.00 L513.91,179.50 L514.04,179.00 L514.19,178.50 L514.36,178.00 L514.54,177.50 L514.75,177.00 L514.98,176.50 L515.23,176.00 L515.50,175.50 L515.80,175.00 L516.12,174.50 L516.46,174.00 L516.83,173.50 L517.23,173.00 L517.64,172.50 L518.09,172.00 L518.55,171.50 L519.04,171.00 L519.55,170.50 L520.09,170.00 L520.64,169.50 L521.20,169.00 L521.79,168.50 L522.38,168.00 L522.99,167.50 L523.60,167.00 L524.22,166.50 L524.85,166.00 L525.47,165.50 L526.09,165.00 L526.71,164.50 L527.32,164.00 L527.91,163.50 L528.49,163.00 L529.06,162.50 L529.60,162.00 L530.12,161.50 L530.61,161.00 L531.08,160.50 L531.51,160.00 L531.91,159.50 L532.28,159.00 L532.60,158.50 L532.89,158.00 L533.13,157.50 L533.34,157.00 L533.49,156.50 L533.61,156.00 L533.68,155.50 L533.70,155.00 L533.68,154.50 L533.61,154.00 L533.49,153.50 L533.34,153.00 L533.13,152.50 L532.89,152.00 L532.60,151.50 L532.28,151.00 L531.91,150.50 L531.51,150.00 L531.08,149.50 L530.61,149.00 L530.12,148.50 L529.60,148.00 L529.06,147.50 L528.49,147.00 L527.91,146.50 L527.32,146.00 L526.71,145.50 L526.09,145.00 L525.47,144.50 L524.85,144.00 L524.22,143.50 L523.60,143.00 L522.99,142.50 L522.38,142.00 L521.79,141.50 L521.20,141.00 L520.64,140.50 L520.09,140.00 L519.55,139.50 L519.04,139.00 L518.55,138.50 L518.09,138.00 L517.64,137.50 L517.23,137.00 L516.83,136.50 L516.46,136.00 L516.12,135.50 L515.80,135.00 L515.50,134.50 L515.23,134.00 L514.98,133.50 L514.75,133.00 L514.54,132.50 L514.36,132.00 L514.19,131.50 L514.04,131.00 L513.91,130.50 L513.79,130.00 L513.68,129.50 L513.59,129.00 L513.51,128.50 L513.45,128.00 L513.39,127.50 L513.34,127.00 L513.30,126.50 L513.26,126.00 L513.23,125.50 L513.20,125.00 L513.18,124.50 L513.17,124.00 L513.15,123.50 L513.14,123.00 L513.13,122.50 L513.12,122.00 L513.12,121.50 L513.11,121.00 L513.11,120.50 L513.11,120.00 L513.11,119.50 L513.10,119.00 L513.10,118.50 L513.10,118.00 L513.10,117.50 L513.10,117.00 L513.10,116.50 L513.10,116.00 L513.10,115.50 L513.10,115.00 L513.10,114.50 L513.10,114.00 L513.10,113.50 L512.97,113.00 L512.82,112.50 L512.67,112.00 L512.52,111.50Z" fill="#a8a8a8"/>
<path d="M553.28,159.30 L553.13,159.80 L552.98,160.30 L552.83,160.80 L552.70,161.30 L552.70,161.80 L552.70,162.30 L552.70,162.80 L552.70,163.30 L552.70,163.80 L552.70,164.30 L552.70,164.80 L552.70,165.30 L552.70,165.80 L552.70,166.30 L552.70,166.80 L552.70,167.30 L552.70,167.80 L552.70,168.30 L552.70,168.80 L552.69,169.30 L552.69,169.80 L552.69,170.30 L552.68,170.80 L552.68,171.30 L552.67,171.80 L552.65,172.30 L552.64,172.80 L552.62,173.30 L552.59,173.80 L552.55,174.30 L552.50,174.80 L552.44,175.30 L552.37,175.80 L552.28,176.30 L552.17,176.80 L552.03,177.30 L551.87,177.80 L551.69,178.30 L551.47,178.80 L551.22,179.30 L550.93,179.80 L550.61,180.30 L550.24,180.80 L549.83,181.30 L549.38,181.80 L548.88,182.30 L548.34,182.80 L547.75,183.30 L547.12,183.80 L546.45,184.30 L545.74,184.80 L545.00,185.30 L544.23,185.80 L543.44,186.30 L542.62,186.80 L541.79,187.30 L540.96,187.80 L540.12,188.30 L539.29,188.80 L538.47,189.30 L537.67,189.80 L536.91,190.30 L536.17,190.80 L535.48,191.30 L534.84,191.80 L534.26,192.30 L533.73,192.80 L533.27,193.30 L532.89,193.80 L532.57,194.30 L532.34,194.80 L532.18,195.30 L532.11,195.80 L532.11,196.30 L532.21,196.80 L532.38,197.30 L532.63,197.80 L532.96,198.30 L533.36,198.80 L533.83,199.30 L534.37,199.80 L534.97,200.30 L535.62,200.80 L536.32,201.30 L537.06,201.80 L537.83,202.30 L538.63,202.80 L539.45,203.30 L540.29,203.80 L541.12,204.30 L541.96,204.80 L542.79,205.30 L543.60,205.80 L544.39,206.30 L545.15,206.80 L545.89,207.30 L546.59,207.80 L547.25,208.30 L547.87,208.80 L548.45,209.30 L548.98,209.80 L549.47,210.30 L549.92,210.80 L550.32,211.30 L550.68,211.80 L550.99,212.30 L551.27,212.80 L551.52,213.30 L551.73,213.80 L551.91,214.30 L552.06,214.80 L552.19,215.30 L552.30,215.80 L552.38,216.30 L552.45,216.80 L552.51,217.30 L552.56,217.80 L552.59,218.30 L552.62,218.80 L552.64,219.30 L552.66,219.80 L552.67,220.30 L552.68,220.80 L552.69,221.30 L552.69,221.80 L552.69,222.30 L552.70,222.80 L552.70,223.30 L552.70,223.80 L552.83,224.30 L552.98,224.80 L553.13,225.30 L553.28,225.80 L553.92,225.80 L554.07,225.30 L554.22,224.80 L554.37,224.30 L554.50,223.80 L554.50,223.30 L554.50,222.80 L554.51,222.30 L554.51,221.80 L554.51,221.30 L554.52,220.80 L554.53,220.30 L554.54,219.80 L554.56,219.30 L554.58,218.80 L554.61,218.30 L554.64,217.80 L554.69,217.30 L554.75,216.80 L554.82,216.30 L554.90,215.80 L555.01,215.30 L555.14,214.80 L555.29,214.30 L555.47,213.80 L555.68,213.30 L555.93,212.80 L556.21,212.30 L556.52,211.80 L556.88,211.30 L557.28,210.80 L557.73,210.30 L558.22,209.80 L558.75,209.30 L559.33,208.80 L559.95,208.30 L560.61,207.80 L561.31,207.30 L562.05,206.80 L562.81,206.30 L563.60,205.80 L564.41,205.30 L565.24,204.80 L566.08,204.30 L566.91,203.80 L567.75,203.30 L568.57,202.80 L569.37,202.30 L570.14,201.80 L570.88,201.30 L571.58,200.80 L572.23,200.30 L572.83,199.80 L573.37,199.30 L573.84,198.80 L574.24,198.30 L574.57,197.80 L574.82,197.30 L574.99,196.80 L575.09,196.30 L575.09,195.80 L575.02,195.30 L574.86,194.80 L574.63,194.30 L574.31,193.80 L573.93,193.30 L573.47,192.80 L572.94,192.30 L572.36,191.80 L571.72,191.30 L571.03,190.80 L570.29,190.30 L569.53,189.80 L568.73,189.30 L567.91,188.80 L567.08,188.30 L566.24,187.80 L565.41,187.30 L564.58,186.80 L563.76,186.30 L562.97,185.80 L562.20,185.30 L561.46,184.80 L560.75,184.30 L560.08,183.80 L559.45,183.30 L558.86,182.80 L558.32,182.30 L557.82,181.80 L557.37,181.30 L556.96,180.80 L556.59,180.30 L556.27,179.80 L555.98,179.30 L555.73,178.80 L555.51,178.30 L555.33,177.80 L555.17,177.30 L555.03,176.80 L554.92,176.30 L554.83,175.80 L554.76,175.30 L554.70,174.80 L554.65,174.30 L554.61,173.80 L554.58,173.30 L554.56,172.80 L554.55,172.30 L554.53,171.80 L554.52,171.30 L554.52,170.80 L554.51,170.30 L554.51,169.80 L554.51,169.30 L554.50,168.80 L554.50,168.30 L554.50,167.80 L554.50,167.30 L554.50,166.80 L554.50,166.30 L554.50,165.80 L554.50,165.30 L554.50,164.80 L554.50,164.30 L554.50,163.80 L554.50,163.30 L554.50,162.80 L554.50,162.30 L554.50,161.80 L554.50,161.30 L554.37,160.80 L554.22,160.30 L554.07,159.80 L553.92,159.30Z" fill="#ffcc55"/>
<path d="M594.08,102.00 L593.93,102.50 L593.78,103.00 L593.63,103.50 L593.50,104.00 L593.50,104.50 L593.50,105.00 L593.49,105.50 L593.49,106.00 L593.48,106.50 L593.48,107.00 L593.46,107.50 L593.45,108.00 L593.42,108.50 L593.39,109.00 L593.35,109.50 L593.29,110.00 L593.22,110.50 L593.13,111.00 L593.01,111.50 L592.87,112.00 L592.69,112.50 L592.47,113.00 L592.21,113.50 L591.91,114.00 L591.55,114.50 L591.14,115.00 L590.68,115.50 L590.15,116.00 L589.57,116.50 L588.92,117.00 L588.22,117.50 L587.46,118.00 L586.64,118.50 L585.79,119.00 L584.89,119.50 L583.96,120.00 L583.00,120.50 L582.03,121.00 L581.06,121.50 L580.09,122.00 L579.15,122.50 L578.23,123.00 L577.35,123.50 L576.53,124.00 L575.77,124.50 L575.08,125.00 L574.47,125.50 L573.95,126.00 L573.54,126.50 L573.22,127.00 L573.01,127.50 L572.91,128.00 L572.92,128.50 L573.04,129.00 L573.27,129.50 L573.61,130.00 L574.05,130.50 L574.59,131.00 L575.21,131.50 L575.91,132.00 L576.69,132.50 L577.52,133.00 L578.41,133.50 L579.33,134.00 L580.28,134.50 L581.25,135.00 L582.23,135.50 L583.19,136.00 L584.14,136.50 L585.07,137.00 L585.96,137.50 L586.81,138.00 L587.61,138.50 L588.36,139.00 L589.05,139.50 L589.69,140.00 L590.26,140.50 L590.77,141.00 L591.23,141.50 L591.63,142.00 L591.97,142.50 L592.27,143.00 L592.52,143.50 L592.73,144.00 L592.90,144.50 L593.04,145.00 L593.15,145.50 L593.24,146.00 L593.31,146.50 L593.36,147.00 L593.40,147.50 L593.43,148.00 L593.45,148.50 L593.47,149.00 L593.48,149.50 L593.49,150.00 L593.49,150.50 L593.49,151.00 L593.50,151.50 L593.50,152.00 L593.50,152.50 L593.50,153.00 L593.50,153.50 L593.60,154.00 L593.75,154.50 L593.90,155.00 L594.05,155.50 L594.75,155.50 L594.90,155.00 L595.05,154.50 L595.20,154.00 L595.30,153.50 L595.30,153.00 L595.30,152.50 L595.30,152.00 L595.30,151.50 L595.31,151.00 L595.31,150.50 L595.31,150.00 L595.32,149.50 L595.33,149.00 L595.35,148.50 L595.37,148.00 L595.40,147.50 L595.44,147.00 L595.49,146.50 L595.56,146.00 L595.65,145.50 L595.76,145.00 L595.90,144.50 L596.07,144.00 L596.28,143.50 L596.53,143.00 L596.83,142.50 L597.17,142.00 L597.57,141.50 L598.03,141.00 L598.54,140.50 L599.11,140.00 L599.75,139.50 L600.44,139.00 L601.19,138.50 L601.99,138.00 L602.84,137.50 L603.73,137.00 L604.66,136.50 L605.61,136.00 L606.57,135.50 L607.55,135.00 L608.52,134.50 L609.47,134.00 L610.39,133.50 L611.28,133.00 L612.11,132.50 L612.89,132.00 L613.59,131.50 L614.21,131.00 L614.75,130.50 L615.19,130.00 L615.53,129.50 L615.76,129.00 L615.88,128.50 L615.89,128.00 L615.79,127.50 L615.58,127.00 L615.26,126.50 L614.85,126.00 L614.33,125.50 L613.72,125.00 L613.03,124.50 L612.27,124.00 L611.45,123.50 L610.57,123.00 L609.65,122.50 L608.71,122.00 L607.74,121.50 L606.77,121.00 L605.80,120.50 L604.84,120.00 L603.91,119.50 L603.01,119.00 L602.16,118.50 L601.34,118.00 L600.58,117.50 L599.88,117.00 L599.23,116.50 L598.65,116.00 L598.12,115.50 L597.66,115.00 L597.25,114.50 L596.89,114.00 L596.59,113.50 L596.33,113.00 L596.11,112.50 L595.93,112.00 L595.79,111.50 L595.67,111.00 L595.58,110.50 L595.51,110.00 L595.45,109.50 L595.41,109.00 L595.38,108.50 L595.35,108.00 L595.34,107.50 L595.32,107.00 L595.32,106.50 L595.31,106.00 L595.31,105.50 L595.30,105.00 L595.30,104.50 L595.30,104.00 L595.17,103.50 L595.02,103.00 L594.87,102.50 L594.72,102.00Z" fill="#c44e54"/>
<path d="M635.08,85.30 L634.93,85.80 L634.78,86.30 L634.63,86.80 L634.50,87.30 L634.50,87.80 L634.50,88.30 L634.50,88.80 L634.49,89.30 L634.49,89.80 L634.48,90.30 L634.47,90.80 L634.46,91.30 L634.44,91.80 L634.41,92.30 L634.37,92.80 L634.31,93.30 L634.24,93.80 L634.14,94.30 L634.02,94.80 L633.86,95.30 L633.67,95.80 L633.43,96.30 L633.14,96.80 L632.79,97.30 L632.39,97.80 L631.92,98.30 L631.38,98.80 L630.77,99.30 L630.10,99.80 L629.35,100.30 L628.54,100.80 L627.67,101.30 L626.74,101.80 L625.77,102.30 L624.76,102.80 L623.72,103.30 L622.67,103.80 L621.62,104.30 L620.59,104.80 L619.58,105.30 L618.62,105.80 L617.72,106.30 L616.88,106.80 L616.13,107.30 L615.47,107.80 L614.92,108.30 L614.48,108.80 L614.16,109.30 L613.96,109.80 L613.90,110.30 L613.96,110.80 L614.16,111.30 L614.48,111.80 L614.92,112.30 L615.47,112.80 L616.13,113.30 L616.88,113.80 L617.72,114.30 L618.62,114.80 L619.58,115.30 L620.59,115.80 L621.62,116.30 L622.67,116.80 L623.72,117.30 L624.76,117.80 L625.77,118.30 L626.74,118.80 L627.67,119.30 L628.54,119.80 L629.35,120.30 L630.10,120.80 L630.77,121.30 L631.38,121.80 L631.92,122.30 L632.39,122.80 L632.79,123.30 L633.14,123.80 L633.43,124.30 L633.67,124.80 L633.86,125.30 L634.02,125.80 L634.14,126.30 L634.24,126.80 L634.31,127.30 L634.37,127.80 L634.41,128.30 L634.44,128.80 L634.46,129.30 L634.47,129.80 L634.48,130.30 L634.49,130.80 L634.49,131.30 L634.50,131.80 L634.50,132.30 L634.50,132.80 L634.50,133.30 L634.50,133.80 L634.50,134.30 L634.50,134.80 L634.50,135.30 L634.50,135.80 L634.50,136.30 L634.50,136.80 L634.63,137.30 L634.78,137.80 L634.93,138.30 L635.08,138.80 L635.72,138.80 L635.87,138.30 L636.02,137.80 L636.17,137.30 L636.30,136.80 L636.30,136.30 L636.30,135.80 L636.30,135.30 L636.30,134.80 L636.30,134.30 L636.30,133.80 L636.30,133.30 L636.30,132.80 L636.30,132.30 L636.30,131.80 L636.31,131.30 L636.31,130.80 L636.32,130.30 L636.33,129.80 L636.34,129.30 L636.36,128.80 L636.39,128.30 L636.43,127.80 L636.49,127.30 L636.56,126.80 L636.66,126.30 L636.78,125.80 L636.94,125.30 L637.13,124.80 L637.37,124.30 L637.66,123.80 L638.01,123.30 L638.41,122.80 L638.88,122.30 L639.42,121.80 L640.03,121.30 L640.70,120.80 L641.45,120.30 L642.26,119.80 L643.13,119.30 L644.06,118.80 L645.03,118.30 L646.04,117.80 L647.08,117.30 L648.13,116.80 L649.18,116.30 L650.21,115.80 L651.22,115.30 L652.18,114.80 L653.08,114.30 L653.92,113.80 L654.67,113.30 L655.33,112.80 L655.88,112.30 L656.32,111.80 L656.64,111.30 L656.84,110.80 L656.90,110.30 L656.84,109.80 L656.64,109.30 L656.32,108.80 L655.88,108.30 L655.33,107.80 L654.67,107.30 L653.92,106.80 L653.08,106.30 L652.18,105.80 L651.22,105.30 L650.21,104.80 L649.18,104.30 L648.13,103.80 L647.08,103.30 L646.04,102.80 L645.03,102.30 L644.06,101.80 L643.13,101.30 L642.26,100.80 L641.45,100.30 L640.70,99.80 L640.03,99.30 L639.42,98.80 L638.88,98.30 L638.41,97.80 L638.01,97.30 L637.66,96.80 L637.37,96.30 L637.13,95.80 L636.94,95.30 L636.78,94.80 L636.66,94.30 L636.56,93.80 L636.49,93.30 L636.43,92.80 L636.39,92.30 L636.36,91.80 L636.34,91.30 L636.33,90.80 L636.32,90.30 L636.31,89.80 L636.31,89.30 L636.30,88.80 L636.30,88.30 L636.30,87.80 L636.30,87.30 L636.17,86.80 L636.02,86.30 L635.87,85.80 L635.72,85.30Z" fill="#786eff"/>
<line x1="102.2" x2="102.2" y1="158.2" y2="195.6" stroke="#000" stroke-width="1.5"/>
<rect x="98.70" y="171.3" width="7" height="12.10" fill="#000"/>
<circle cx="102.2" cy="177.3" r="2.5" fill="#fff"/>
<line x1="143.6" x2="143.6" y1="146.3" y2="173.6" stroke="#000" stroke-width="1.5"/>
<rect x="140.10" y="154.9" width="7" height="9.40" fill="#000"/>
<circle cx="143.6" cy="159.7" r="2.5" fill="#fff"/>
<line x1="184.5" x2="184.5" y1="106.3" y2="128.5" stroke="#000" stroke-width="1.5"/>
<rect x="181.00" y="113.3" width="7" height="7.40" fill="#000"/>
<circle cx="184.5" cy="117.1" r="2.5" fill="#fff"/>
<line x1="225.3" x2="225.3" y1="82" y2="102.7" stroke="#000" stroke-width="1.5"/>
<rect x="221.80" y="88.7" width="7" height="7.60" fill="#000"/>
<circle cx="225.3" cy="92.3" r="2.5" fill="#fff"/>
<line x1="307.2" x2="307.2" y1="158" y2="194.4" stroke="#000" stroke-width="1.5"/>
<rect x="303.70" y="169.9" width="7" height="11.60" fill="#000"/>
<circle cx="307.2" cy="176" r="2.5" fill="#fff"/>
<line x1="348.6" x2="348.6" y1="156.5" y2="183.2" stroke="#000" stroke-width="1.5"/>
<rect x="345.10" y="165.4" width="7" height="8.70" fill="#000"/>
<circle cx="348.6" cy="169.9" r="2.5" fill="#fff"/>
<line x1="389.4" x2="389.4" y1="124.2" y2="146.7" stroke="#000" stroke-width="1.5"/>
<rect x="385.90" y="131.2" width="7" height="7.80" fill="#000"/>
<circle cx="389.4" cy="135.1" r="2.5" fill="#fff"/>
<line x1="430.4" x2="430.4" y1="93.8" y2="115.4" stroke="#000" stroke-width="1.5"/>
<rect x="426.90" y="100.6" width="7" height="8.00" fill="#000"/>
<circle cx="430.4" cy="104.5" r="2.5" fill="#fff"/>
<line x1="512.2" x2="512.2" y1="136.5" y2="173.5" stroke="#000" stroke-width="1.5"/>
<rect x="508.70" y="149.3" width="7" height="12.00" fill="#000"/>
<circle cx="512.2" cy="155" r="2.5" fill="#fff"/>
<line x1="553.6" x2="553.6" y1="183.2" y2="209.3" stroke="#000" stroke-width="1.5"/>
<rect x="550.10" y="191.9" width="7" height="9.00" fill="#000"/>
<circle cx="553.6" cy="196.2" r="2.5" fill="#fff"/>
<line x1="594.4" x2="594.4" y1="116.9" y2="139.5" stroke="#000" stroke-width="1.5"/>
<rect x="590.90" y="124.3" width="7" height="7.70" fill="#000"/>
<circle cx="594.4" cy="128.1" r="2.5" fill="#fff"/>
<line x1="635.4" x2="635.4" y1="99.5" y2="120.4" stroke="#000" stroke-width="1.5"/>
<rect x="631.90" y="106.5" width="7" height="8.00" fill="#000"/>
<circle cx="635.4" cy="110.4" r="2.5" fill="#fff"/>
<polyline points="102.5,127.6 102.5,110.9 143.6,110.9 143.6,126.0" fill="none" stroke="#000" stroke-width="2.7" stroke-linejoin="miter"/>
<polyline points="307.5,128.0 307.5,119.9 348.5,119.9 348.5,137.0" fill="none" stroke="#000" stroke-width="2.7" stroke-linejoin="miter"/>
<polyline points="512.4,108.0 512.4,102.0 553.5,102.0 553.5,156.0" fill="none" stroke="#000" stroke-width="2.7" stroke-linejoin="miter"/>
<polyline points="348.5,203.0 348.5,239.3 553.5,239.3 553.5,229.3" fill="none" stroke="#000" stroke-width="2.7" stroke-linejoin="miter"/>
<polyline points="143.6,197.7 143.6,255.0 553.5,255.0 553.5,243.9" fill="none" stroke="#000" stroke-width="2.7" stroke-linejoin="miter"/>
<text x="97.3" y="106.7" font-size="11.8" text-anchor="start"  stroke-width="0.15">pD = .926</text>
<text x="302.3" y="115.5" font-size="11.8" text-anchor="start"  stroke-width="0.15">pD = .703</text>
<text x="504.7" y="98.6" font-size="11.8" text-anchor="start"  stroke-width="0.15">pD &gt; .999*</text>
<text x="417.5" y="236.1" font-size="11.8" text-anchor="start"  stroke-width="0.15">pD &gt; .997*</text>
<text x="315.1" y="251.8" font-size="11.8" text-anchor="start"  stroke-width="0.15">pD &gt; .999*</text>
<rect x="53.2" y="5.1" width="631.3" height="281.7" fill="none" stroke="#000" stroke-width="1.25"/>
<line x1="48.2" x2="53.2" y1="286.80" y2="286.80" stroke="#000" stroke-width="1.3"/>
<text x="42.6" y="292.10" font-size="14.8" text-anchor="end" >0.0</text>
<line x1="48.2" x2="53.2" y1="251.59" y2="251.59" stroke="#000" stroke-width="1.3"/>
<text x="42.6" y="256.89" font-size="14.8" text-anchor="end" >0.2</text>
<line x1="48.2" x2="53.2" y1="216.38" y2="216.38" stroke="#000" stroke-width="1.3"/>
<text x="42.6" y="221.68" font-size="14.8" text-anchor="end" >0.4</text>
<line x1="48.2" x2="53.2" y1="181.16" y2="181.16" stroke="#000" stroke-width="1.3"/>
<text x="42.6" y="186.46" font-size="14.8" text-anchor="end" >0.6</text>
<line x1="48.2" x2="53.2" y1="145.95" y2="145.95" stroke="#000" stroke-width="1.3"/>
<text x="42.6" y="151.25" font-size="14.8" text-anchor="end" >0.8</text>
<line x1="48.2" x2="53.2" y1="110.74" y2="110.74" stroke="#000" stroke-width="1.3"/>
<text x="42.6" y="116.04" font-size="14.8" text-anchor="end" >1.0</text>
<line x1="48.2" x2="53.2" y1="75.53" y2="75.53" stroke="#000" stroke-width="1.3"/>
<text x="42.6" y="80.83" font-size="14.8" text-anchor="end" >1.2</text>
<line x1="48.2" x2="53.2" y1="40.31" y2="40.31" stroke="#000" stroke-width="1.3"/>
<text x="42.6" y="45.61" font-size="14.8" text-anchor="end" >1.4</text>
<line x1="48.2" x2="53.2" y1="5.10" y2="5.10" stroke="#000" stroke-width="1.3"/>
<text x="42.6" y="10.40" font-size="14.8" text-anchor="end" >1.6</text>
<line x1="164" x2="164" y1="286.8" y2="291.8" stroke="#000" stroke-width="1.3"/>
<text x="164" y="307.1" font-size="14.8" text-anchor="middle" >Self-Report</text>
<line x1="368.8" x2="368.8" y1="286.8" y2="291.8" stroke="#000" stroke-width="1.3"/>
<text x="368.8" y="307.1" font-size="14.8" text-anchor="middle" >Expression</text>
<line x1="573.6" x2="573.6" y1="286.8" y2="291.8" stroke="#000" stroke-width="1.3"/>
<text x="573.6" y="307.1" font-size="14.8" text-anchor="middle" >Reputation</text>
<text transform="translate(10.9,252.4) rotate(-90)" font-size="14.8">Mean evidence</text>
<text transform="translate(10.9,148.3) rotate(-90)" font-size="14.8">threshold</text>
<text transform="translate(10.9,82.8) rotate(-90)" font-size="14.8">(log</text>
<text transform="translate(10.9,52.8) rotate(-90)" font-size="14.8"><tspan font-style="italic">b</tspan>)</text>
<rect x="579.5" y="210.6" width="99.2" height="70.2" rx="2.2" ry="2.2" fill="#fff" stroke="#c8c8c8" stroke-width="1.1"/>
<rect x="583.8" y="214.30" width="25.3" height="9.7" fill="#808080"/>
<text x="618.1" y="223.30" font-size="11.8" text-anchor="start"  stroke-width="0.15">Neutral</text>
<rect x="583.8" y="231.10" width="25.3" height="9.7" fill="#ffb000"/>
<text x="618.1" y="240.10" font-size="11.8" text-anchor="start"  stroke-width="0.15">Happiness</text>
<rect x="583.8" y="247.90" width="25.3" height="9.7" fill="#aa0000"/>
<text x="618.1" y="256.90" font-size="11.8" text-anchor="start"  stroke-width="0.15">Anger</text>
<rect x="583.8" y="264.70" width="25.3" height="9.7" fill="#3333ff"/>
<text x="618.1" y="273.70" font-size="11.8" text-anchor="start"  stroke-width="0.15">Sadness</text>
</svg></body></html>
